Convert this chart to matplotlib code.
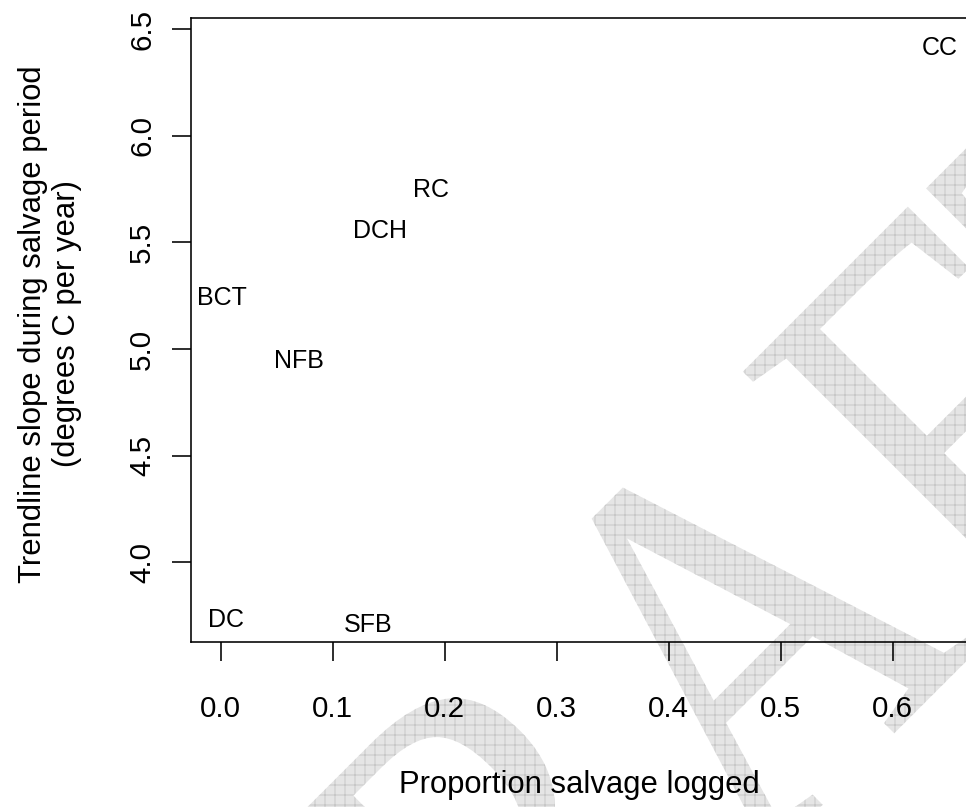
import numpy as np
import matplotlib
matplotlib.use("Agg")
import matplotlib.pyplot as plt
from matplotlib.textpath import TextPath
from matplotlib.font_manager import FontProperties
from matplotlib.patches import PathPatch
from matplotlib.transforms import Affine2D

# ---- data -------------------------------------------------------------
sites = ["DC", "SFB", "BCT", "NFB", "DCH", "RC", "CC"]
prop_logged = [0.005, 0.132, 0.001, 0.070, 0.142, 0.188, 0.642]
trend_slope = [3.743, 3.718, 5.253, 4.954, 5.563, 5.755, 6.424]

xticks = [0.0, 0.1, 0.2, 0.3, 0.4, 0.5, 0.6]
xtick_labels = ["0.0", "0.1", "0.2", "0.3", "0.4", "0.5", "0.6"]
yticks = [4.0, 4.5, 5.0, 5.5, 6.0, 6.5]
ytick_labels = ["4.0", "4.5", "5.0", "5.5", "6.0", "6.5"]

x_label = "Proportion salvage logged"
y_label_lines = ["Trendline slope during salvage period", "(degrees C per year)"]

# ---- layout helpers (pixel based) ---------------------------------------
DPI = 60
W, H = 966, 807


def pt(px):
    return px * 72.0 / DPI


plt.rcParams["font.family"] = ["Liberation Sans", "DejaVu Sans"]
plt.rcParams["hatch.linewidth"] = 1.0

fig = plt.figure(figsize=(W / DPI, H / DPI), dpi=DPI, facecolor="white")

# plot region (left, right, top, bottom) in pixels from the top-left corner
L, R, T, B = 190.5, 969.0, 18.3, 641.7
ax = fig.add_axes([L / W, 1 - B / H, (R - L) / W, (B - T) / H])
ax.patch.set_visible(False)
for sp in ax.spines.values():
    sp.set_linewidth(pt(1.6))
    sp.set_color("black")

ax.set_xlim(-0.02696, 0.6681)
ax.set_ylim(3.628, 6.550)

ax.tick_params(axis="both", direction="out", length=pt(19), width=pt(1.6),
               color="black", labelcolor="black")
ax.tick_params(axis="x", pad=pt(45.6))
ax.tick_params(axis="y", pad=pt(32.5))

ax.set_xticks(xticks, labels=xtick_labels, fontsize=pt(29.5),
              ha="center", va="center_baseline")
ax.set_yticks(yticks, labels=ytick_labels, fontsize=pt(29.5), rotation=90,
              rotation_mode="anchor", ha="center", va="center_baseline")

# site names placed at their (proportion, slope) coordinates
for name, xv, yv in zip(sites, prop_logged, trend_slope):
    ax.text(xv, yv, name, fontsize=pt(25), ha="center", va="center_baseline",
            color="black")

ax.set_xlabel(x_label, fontsize=pt(31))
ax.xaxis.set_label_coords(0.5, (B - 793.3) / (B - T))
ax.xaxis.label.set_va("baseline")

for line, xpx in zip(y_label_lines, [29.5, 64.0]):
    fig.text(xpx / W, 1 - 324.0 / H, line, fontsize=pt(31), rotation=90,
             rotation_mode="anchor", ha="center", va="center_baseline")

# ---- hatched "DRAFT" watermark behind everything -------------------------
wm_prop = FontProperties(family="Liberation Serif")
wm_path = TextPath((0, 0), "DRAFT", size=1, prop=wm_prop)
verts = wm_path.vertices
apex = verts[np.argmax(verts[:, 1])]          # tip of the "A"
EM_X, EM_Y = 475.0, 554.0                     # slightly condensed lettering
wm_trans = (Affine2D()
            .translate(-apex[0], -apex[1])
            .scale(EM_X / DPI, EM_Y / DPI)
            .rotate_deg(45)
            .translate(591.7 / DPI, (H - 518.6) / DPI)
            + fig.dpi_scale_trans)
wm_patch = PathPatch(wm_path, transform=wm_trans, facecolor="#e5e5e5",
                     edgecolor="#c2c2c2", linewidth=0, hatch="+", zorder=-1)
fig.add_artist(wm_patch)

fig.savefig("out.png", dpi=DPI, facecolor="white")
